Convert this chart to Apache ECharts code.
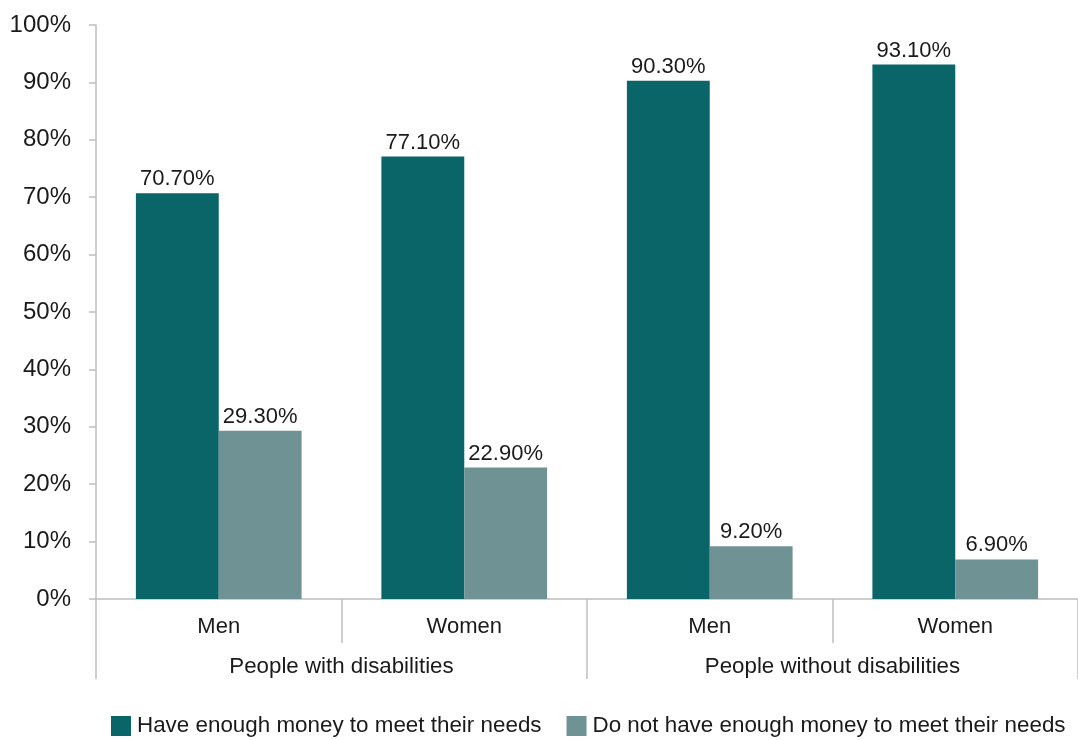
<!DOCTYPE html>
<html>
<head>
<meta charset="utf-8">
<script src="https://cdn.jsdelivr.net/npm/echarts@6/dist/echarts.min.js"></script>
<style>html,body{margin:0;padding:0;background:#fff}#chart{width:1078px;height:740px}</style>
</head>
<body>
<div id="chart"></div>
<script>
const subCategories = ["Men", "Women", "Men", "Women"];
const groups = ["People with disabilities", "People without disabilities"];
const seriesNames = ["Have enough money to meet their needs", "Do not have enough money to meet their needs"];
const haveEnough = [70.7, 77.1, 90.3, 93.1];
const notEnough = [29.3, 22.9, 9.2, 6.9];
const yTicks = [0, 10, 20, 30, 40, 50, 60, 70, 80, 90, 100];

const FONT = '"Liberation Sans", Arial, Helvetica, sans-serif';
const TXT = '#1a1a1a';
const AX = '#bfbfbf';
const chart = echarts.init(document.getElementById('chart'), null, {renderer: 'canvas'});
const labelCfg = {
  show: true, position: 'top', distance: 3,
  formatter: p => p.value.toFixed(2) + '%',
  fontFamily: FONT, fontSize: 22, color: TXT
};
chart.setOption({
  animation: false,
  textStyle: {fontFamily: FONT},
  grid: {left: 96, right: -2, top: 25, bottom: 141, containLabel: false},
  legend: {
    bottom: 3, left: 111, itemWidth: 20, itemHeight: 20, itemGap: 25, padding: 0,
    icon: 'rect',
    textStyle: {fontFamily: FONT, fontSize: 22.4, color: TXT, padding: [0, 0, 0, 1]},
    data: seriesNames
  },
  xAxis: [
    {
      type: 'category', data: subCategories, position: 'bottom',
      axisLine: {show: true, lineStyle: {color: AX, width: 1.5}},
      axisTick: {show: true, length: 44, alignWithLabel: false, lineStyle: {color: AX, width: 1.5}},
      axisLabel: {margin: 17, fontFamily: FONT, fontSize: 22, color: TXT}
    },
    {
      type: 'category', data: groups, position: 'bottom',
      axisLine: {show: false},
      axisTick: {show: true, length: 80, alignWithLabel: false, lineStyle: {color: AX, width: 1.5}},
      axisLabel: {margin: 57, fontFamily: FONT, fontSize: 22.3, color: TXT}
    }
  ],
  yAxis: {
    type: 'value', min: 0, max: 100, interval: 10,
    axisLine: {show: true, lineStyle: {color: AX, width: 1.5}},
    axisTick: {show: true, length: 7, lineStyle: {color: AX, width: 1.5}},
    splitLine: {show: false},
    axisLabel: {
      margin: 25, fontFamily: FONT, fontSize: 24, color: TXT,
      formatter: v => (yTicks.indexOf(v) >= 0 ? v + '%' : '')
    }
  },
  series: [
    {
      name: seriesNames[0], type: 'bar', data: haveEnough, xAxisIndex: 0,
      barGap: '0%', barCategoryGap: '32.5%',
      itemStyle: {color: '#0a6568'}, label: labelCfg
    },
    {
      name: seriesNames[1], type: 'bar', data: notEnough, xAxisIndex: 0,
      barGap: '0%', barCategoryGap: '32.5%',
      itemStyle: {color: '#6f9395'}, label: labelCfg
    }
  ]
});
</script>
</body>
</html>
